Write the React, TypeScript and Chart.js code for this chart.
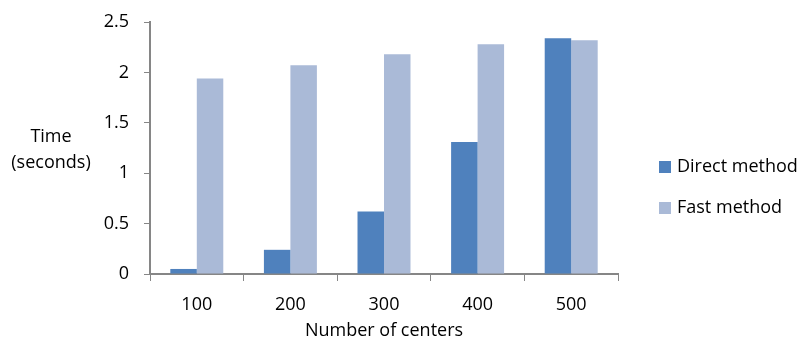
import React, { useEffect, useRef } from "react";
import { Chart, registerables } from "chart.js";

Chart.register(...registerables);

const categories = ["100", "200", "300", "400", "500"];
const directMethod = [0.05, 0.24, 0.62, 1.31, 2.34];
const fastMethod = [1.94, 2.07, 2.18, 2.28, 2.32];
const seriesLabels = ["Direct method", "Fast method"];
const seriesColors = ["#4F81BD", "#AABAD7"];
const yTitleLines = ["Time", "(seconds)"];
const xTitle = "Number of centers";

const FONT = "'Open Sans', sans-serif";
const FS = 18;
const AXIS = "#868686";

const overlayPlugin = {
  id: "overlay",
  afterDraw(chart: any) {
    const ctx = chart.ctx;
    ctx.save();
    ctx.font = `${FS}px ${FONT}`;
    ctx.fillStyle = "#000";
    ctx.textBaseline = "middle";
    // y title
    ctx.textAlign = "center";
    ctx.fillText(yTitleLines[0], 51, 137);
    ctx.fillText(yTitleLines[1], 51, 163);
    // legend
    ctx.textAlign = "left";
    const ys = [167, 208];
    chart.data.datasets.forEach((ds: any, i: number) => {
      ctx.fillStyle = ds.backgroundColor;
      ctx.fillRect(659, ys[i] - 6, 12, 12);
      ctx.fillStyle = "#000";
      ctx.fillText(ds.label, 677, ys[i]);
    });
    ctx.restore();
  },
};

export default function App() {
  const ref = useRef<HTMLCanvasElement>(null);
  useEffect(() => {
    if (!ref.current) return;
    const chart = new Chart(ref.current, {
      type: "bar",
      data: {
        labels: categories,
        datasets: [
          { label: seriesLabels[0], data: directMethod, backgroundColor: seriesColors[0] },
          { label: seriesLabels[1], data: fastMethod, backgroundColor: seriesColors[1] },
        ],
      },
      options: {
        animation: false,
        responsive: true,
        maintainAspectRatio: false,
        layout: { padding: { top: 22, right: 184, left: 0, bottom: 0 } },
        datasets: { bar: { categoryPercentage: 0.566, barPercentage: 1 } },
        plugins: { legend: { display: false }, tooltip: { enabled: false } },
        scales: {
          x: {
            grid: { display: true, drawOnChartArea: false, drawTicks: true, tickLength: 7, color: AXIS, offset: true },
            border: { display: true, color: AXIS, width: 2 },
            ticks: { color: "#000", font: { family: FONT, size: FS }, padding: 13 },
            title: { display: true, text: xTitle, color: "#000", font: { family: FONT, size: FS }, padding: { top: 0, bottom: 1 } },
            afterFit(scale: any) {
              scale.height = 69;
              scale.paddingLeft = 0;
              scale.paddingRight = 0;
            },
          },
          y: {
            min: 0,
            max: 2.5,
            ticks: {
              stepSize: 0.5,
              color: "#000",
              font: { family: FONT, size: FS },
              padding: 15,
              callback: (v: any) => String(Number(v)),
            },
            grid: { display: true, drawOnChartArea: false, drawTicks: true, tickLength: 6, color: AXIS },
            border: { display: true, color: AXIS, width: 2 },
            afterFit(scale: any) {
              scale.width = 150;
              scale.paddingTop = 0;
              scale.paddingBottom = 0;
            },
          },
        },
      },
      plugins: [overlayPlugin],
    });
    return () => chart.destroy();
  }, []);
  return (
    <div style={{ position: "absolute", left: 0, top: 0, width: 802, height: 343 }}>
      <canvas ref={ref} />
    </div>
  );
}
